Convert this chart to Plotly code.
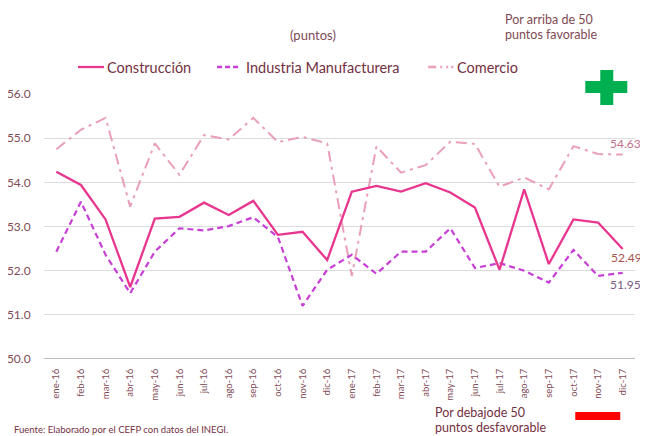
import plotly.graph_objects as go

meses = ["ene-16", "feb-16", "mar-16", "abr-16", "may-16", "jun-16", "jul-16", "ago-16",
         "sep-16", "oct-16", "nov-16", "dic-16", "ene-17", "feb-17", "mar-17", "abr-17",
         "may-17", "jun-17", "jul-17", "ago-17", "sep-17", "oct-17", "nov-17", "dic-17"]

construccion = [54.24, 53.94, 53.16, 51.63, 53.18, 53.22, 53.54, 53.26, 53.58, 52.81, 52.88, 52.24,
                53.79, 53.92, 53.79, 53.98, 53.77, 53.43, 52.02, 53.84, 52.15, 53.16, 53.09, 52.49]

industria = [52.43, 53.56, 52.36, 51.49, 52.43, 52.96, 52.91, 53.01, 53.21, 52.76, 51.20, 52.02,
             52.36, 51.93, 52.43, 52.43, 52.96, 52.06, 52.17, 52.00, 51.73, 52.47, 51.88, 51.95]

comercio = [54.75, 55.19, 55.46, 53.45, 54.88, 54.17, 55.07, 54.97, 55.46, 54.91, 55.03, 54.88,
            51.88, 54.81, 54.22, 54.39, 54.92, 54.87, 53.90, 54.11, 53.84, 54.82, 54.64, 54.63]

y_ticks = [50, 51, 52, 53, 54, 55, 56]

C_CONS = "#E8368F"
C_IND = "#C83FD6"
C_COM = "#EA9FB8"
TXT = "#7f4a55"
LEG = "#74303f"

FONT = "Lato"

# the page places the figure 8px from the top-left corner of the window
O = 8
W, H = 640, 428
L, T = 36, 86
PW = 590.7
PH = 265
R = W - L - PW
B = H - T - PH


def px(xref_pix):
    return (xref_pix - O - L) / PW


def py(yref_pix):
    return (T + PH - (yref_pix - O)) / PH


fig = go.Figure()
fig.add_trace(go.Scatter(x=meses, y=comercio, mode="lines", name="Comercio",
                         line=dict(color=C_COM, width=2, dash="11px,5px,3px,5px")))
fig.add_trace(go.Scatter(x=meses, y=industria, mode="lines", name="Industria Manufacturera",
                         line=dict(color=C_IND, width=2.2, dash="6px,4px")))
fig.add_trace(go.Scatter(x=meses, y=construccion, mode="lines", name="Construcción",
                         line=dict(color=C_CONS, width=2.3)))

shapes = []
annotations = []

# manual legend
legend_items = [
    ("Construcción", C_CONS, "solid", 78, 104, 105),
    ("Industria Manufacturera", C_IND, "5px,3px", 217, 240, 244),
    ("Comercio", C_COM, "8px,4px,2px,4px,2px,3px", 428, 453, 455),
]
for name, col, dash, x0, x1, tx in legend_items:
    shapes.append(dict(type="line", xref="paper", yref="paper", x0=px(x0), x1=px(x1),
                       y0=py(67), y1=py(67), line=dict(color=col, width=2.3, dash=dash)))
    annotations.append(dict(xref="paper", yref="paper", x=px(tx), y=py(67), text=name,
                            showarrow=False, xanchor="left", yanchor="middle",
                            font=dict(family=FONT, size=14.5, color=LEG)))

# titles / notes
annotations.append(dict(xref="paper", yref="paper", x=px(313), y=py(35), text="(puntos)",
                        showarrow=False, xanchor="center", yanchor="middle",
                        font=dict(family=FONT, size=13, color=TXT)))
annotations.append(dict(xref="paper", yref="paper", x=px(503), y=py(19),
                        text="Por arriba de 50", showarrow=False,
                        xanchor="left", yanchor="middle",
                        font=dict(family=FONT, size=12.5, color=TXT)))
annotations.append(dict(xref="paper", yref="paper", x=px(503), y=py(34),
                        text="puntos favorable", showarrow=False,
                        xanchor="left", yanchor="middle",
                        font=dict(family=FONT, size=12.5, color=TXT)))
annotations.append(dict(xref="paper", yref="paper", x=px(433), y=py(412),
                        text="Por debajode 50", showarrow=False,
                        xanchor="left", yanchor="middle",
                        font=dict(family=FONT, size=12.5, color=LEG)))
annotations.append(dict(xref="paper", yref="paper", x=px(433), y=py(427),
                        text="puntos desfavorable", showarrow=False,
                        xanchor="left", yanchor="middle",
                        font=dict(family=FONT, size=12.5, color=LEG)))
annotations.append(dict(xref="paper", yref="paper", x=px(12), y=py(429),
                        text="Fuente: Elaborado por el CEFP con datos del INEGI.",
                        showarrow=False, xanchor="left", yanchor="middle",
                        font=dict(family=FONT, size=9.5, color=LEG)))

# end-of-series value labels
annotations.append(dict(x=meses[-1], y=comercio[-1], text=f"{comercio[-1]:.2f}", showarrow=False,
                        xanchor="left", yanchor="middle", xshift=-15, yshift=11,
                        font=dict(family=FONT, size=12, color="#C0708C")))
annotations.append(dict(x=meses[-1], y=construccion[-1], text=f"{construccion[-1]:.2f}", showarrow=False,
                        xanchor="left", yanchor="middle", xshift=-14, yshift=-8,
                        font=dict(family=FONT, size=12, color="#A8504E")))
annotations.append(dict(x=meses[-1], y=industria[-1], text=f"{industria[-1]:.2f}", showarrow=False,
                        xanchor="left", yanchor="middle", xshift=-15, yshift=-12,
                        font=dict(family=FONT, size=12, color="#7A5A86")))

# green plus
shapes.append(dict(type="rect", xref="paper", yref="paper", x0=px(600), x1=px(613),
                   y0=py(105), y1=py(70), fillcolor="#00B050", line=dict(width=0)))
shapes.append(dict(type="rect", xref="paper", yref="paper", x0=px(585), x1=px(627),
                   y0=py(93), y1=py(81), fillcolor="#00B050", line=dict(width=0)))
# red bar
shapes.append(dict(type="rect", xref="paper", yref="paper", x0=px(575), x1=px(620),
                   y0=py(420), y1=py(412), fillcolor="#FF0000", line=dict(width=0)))

fig.update_layout(
    template="none",
    width=W, height=H,
    margin=dict(l=L, r=R, t=T, b=B, pad=0, autoexpand=False),
    paper_bgcolor="white", plot_bgcolor="white",
    showlegend=False,
    shapes=shapes, annotations=annotations,
    font=dict(family=FONT, color=TXT),
    xaxis=dict(type="category", range=[-0.5, 23.5], tickangle=-90, automargin=False,
               tickfont=dict(family=FONT, size=9.5, color=TXT),
               showgrid=False, showline=False, zeroline=False,
               ticks="outside", ticklen=5, tickcolor="rgba(0,0,0,0)"),
    yaxis=dict(range=[50, 56], tickvals=y_ticks, tickformat=".1f", automargin=False,
               tickfont=dict(family=FONT, size=12, color=TXT),
               showgrid=True, gridcolor="#DCDCDC", gridwidth=1,
               zeroline=False, showline=False,
               ticks="outside", ticklen=10, tickcolor="rgba(0,0,0,0)"),
)

# axis baseline at 50
fig.add_shape(type="line", xref="paper", yref="y", x0=0, x1=1, y0=50, y1=50,
              line=dict(color="#A6A6A6", width=1.3))

fig.write_html("out.html")
